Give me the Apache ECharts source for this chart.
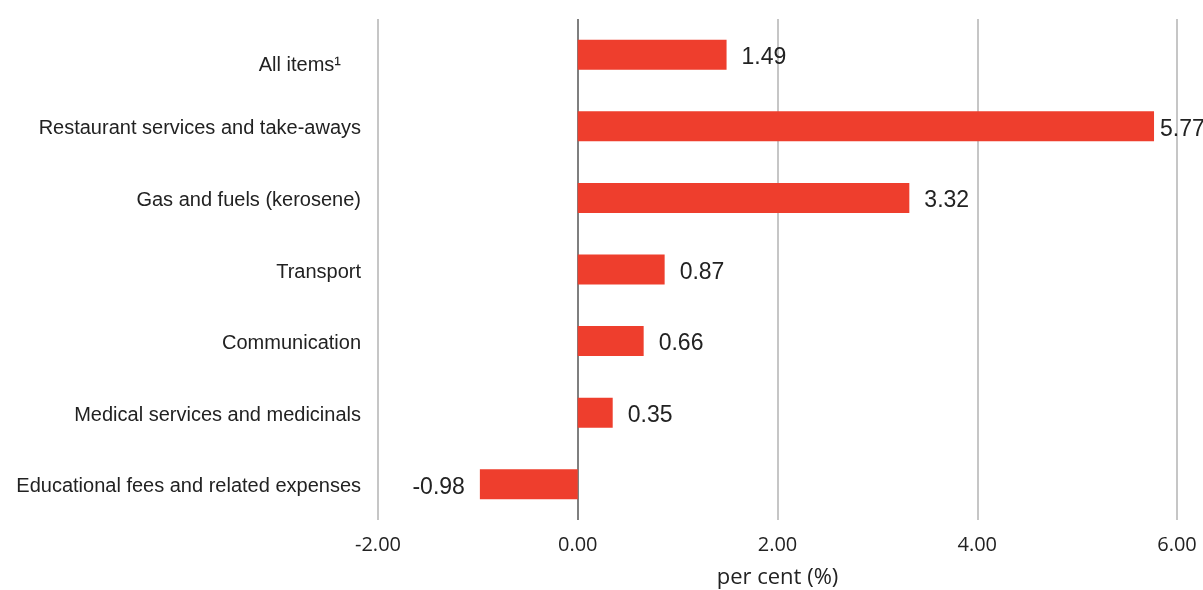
<!DOCTYPE html>
<html>
<head>
<meta charset="utf-8">
<script src="https://cdn.jsdelivr.net/npm/echarts@6/dist/echarts.min.js"></script>
<style>
html,body{margin:0;padding:0;background:#fff;}
#chart{width:1203px;height:590px;}
</style>
</head>
<body>
<div id="chart"></div>
<script>
const categories = [
  "All items\u00B9",
  "Restaurant services and take-aways",
  "Gas and fuels (kerosene)",
  "Transport",
  "Communication",
  "Medical services and medicinals",
  "Educational fees and related expenses"
];
const values = [1.49, 5.77, 3.32, 0.87, 0.66, 0.35, -0.98];
const xTicks = [-2, 0, 2, 4, 6];
const axisName = "per cent (%)";

const chart = echarts.init(document.getElementById('chart'));
chart.setOption({
  animation: false,
  backgroundColor: '#ffffff',
  grid: { left: 378, right: 26, top: 19, bottom: 70, containLabel: false, outerBoundsMode: 'none' },
  xAxis: {
    type: 'value',
    min: xTicks[0],
    max: xTicks[xTicks.length - 1],
    interval: 2,
    name: axisName,
    nameLocation: 'middle',
    nameGap: 47,
    nameTextStyle: { fontFamily: 'Open Sans', fontSize: 22, color: '#222' },
    axisLine: { show: false },
    axisTick: { show: false },
    axisLabel: {
      margin: 15,
      fontFamily: 'Open Sans',
      fontSize: 20,
      color: '#222',
      formatter: v => v.toFixed(2)
    },
    splitLine: {
      show: true,
      showMinLine: true,
      showMaxLine: true,
      lineStyle: { color: ['#c6c6c6', '#7f7f7f', '#c6c6c6', '#c6c6c6', '#c6c6c6'], width: 2 }
    }
  },
  yAxis: {
    type: 'category',
    data: categories,
    inverse: true,
    axisLine: { show: false, onZero: false },
    axisTick: { show: false },
    axisLabel: {
      margin: 17,
      fontFamily: '"Liberation Sans", Arial, sans-serif',
      fontSize: 20,
      color: '#222',
      formatter: (v, i) => i === 0 ? '{f|' + v + '}' : '{n|' + v + '}',
      rich: {
        f: { fontFamily: '"Liberation Sans", Arial, sans-serif', fontSize: 20, color: '#222', padding: [22, 20, 0, 0] },
        n: { fontFamily: '"Liberation Sans", Arial, sans-serif', fontSize: 20, color: '#222', padding: [5, 0, 0, 0] }
      }
    },
    splitLine: { show: false }
  },
  series: [{
    type: 'bar',
    barWidth: 30,
    itemStyle: { color: '#ee3e2d' },
    data: values.map(v => ({
      value: v,
      label: { position: v < 0 ? 'left' : 'right', distance: v > 5.5 ? 6 : 15 }
    })),
    label: {
      show: true,
      distance: 15,
      offset: [0, 3],
      fontFamily: '"Liberation Sans", Arial, sans-serif',
      fontSize: 23,
      color: '#222',
      formatter: p => p.value.toFixed(2)
    }
  }]
});
</script>
</body>
</html>
